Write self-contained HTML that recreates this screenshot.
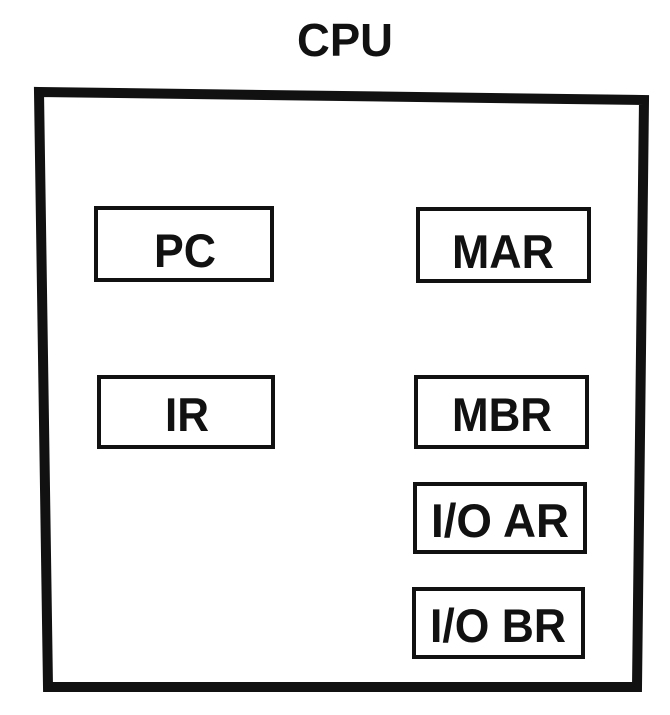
<!DOCTYPE html>
<html><head><meta charset="utf-8"><style>
html,body{margin:0;padding:0;background:#fff;}
svg{display:block;}
text{font-family:"Liberation Sans",Arial,sans-serif;font-weight:bold;fill:#111;}
</style></head><body>
<svg width="670" height="715" viewBox="0 0 670 715" xmlns="http://www.w3.org/2000/svg">
<rect width="670" height="715" fill="#fff"/>
<text x="345" y="56" font-size="46" text-anchor="middle" textLength="96" lengthAdjust="spacingAndGlyphs">CPU</text>
<polygon points="39,92 644,100 637,687 48,687" fill="none" stroke="#111" stroke-width="10" stroke-linejoin="miter"/>
<g fill="none" stroke="#111" stroke-width="4">
<rect x="96" y="208" width="176" height="72"/>
<rect x="418" y="209" width="171" height="72"/>
<rect x="99" y="377" width="174" height="70"/>
<rect x="416" y="377" width="171" height="70"/>
<rect x="415" y="484" width="170" height="68"/>
<rect x="414" y="589" width="169" height="68"/>
</g>
<g font-size="47" text-anchor="middle">
<text x="185" y="267" textLength="62" lengthAdjust="spacingAndGlyphs">PC</text>
<text x="503" y="268" textLength="102" lengthAdjust="spacingAndGlyphs">MAR</text>
<text x="187" y="431" textLength="44" lengthAdjust="spacingAndGlyphs">IR</text>
<text x="502" y="431" textLength="100" lengthAdjust="spacingAndGlyphs">MBR</text>
<text x="500" y="537" textLength="138" lengthAdjust="spacingAndGlyphs">I/O AR</text>
<text x="498" y="642" textLength="136" lengthAdjust="spacingAndGlyphs">I/O BR</text>
</g>
</svg>
</body></html>
